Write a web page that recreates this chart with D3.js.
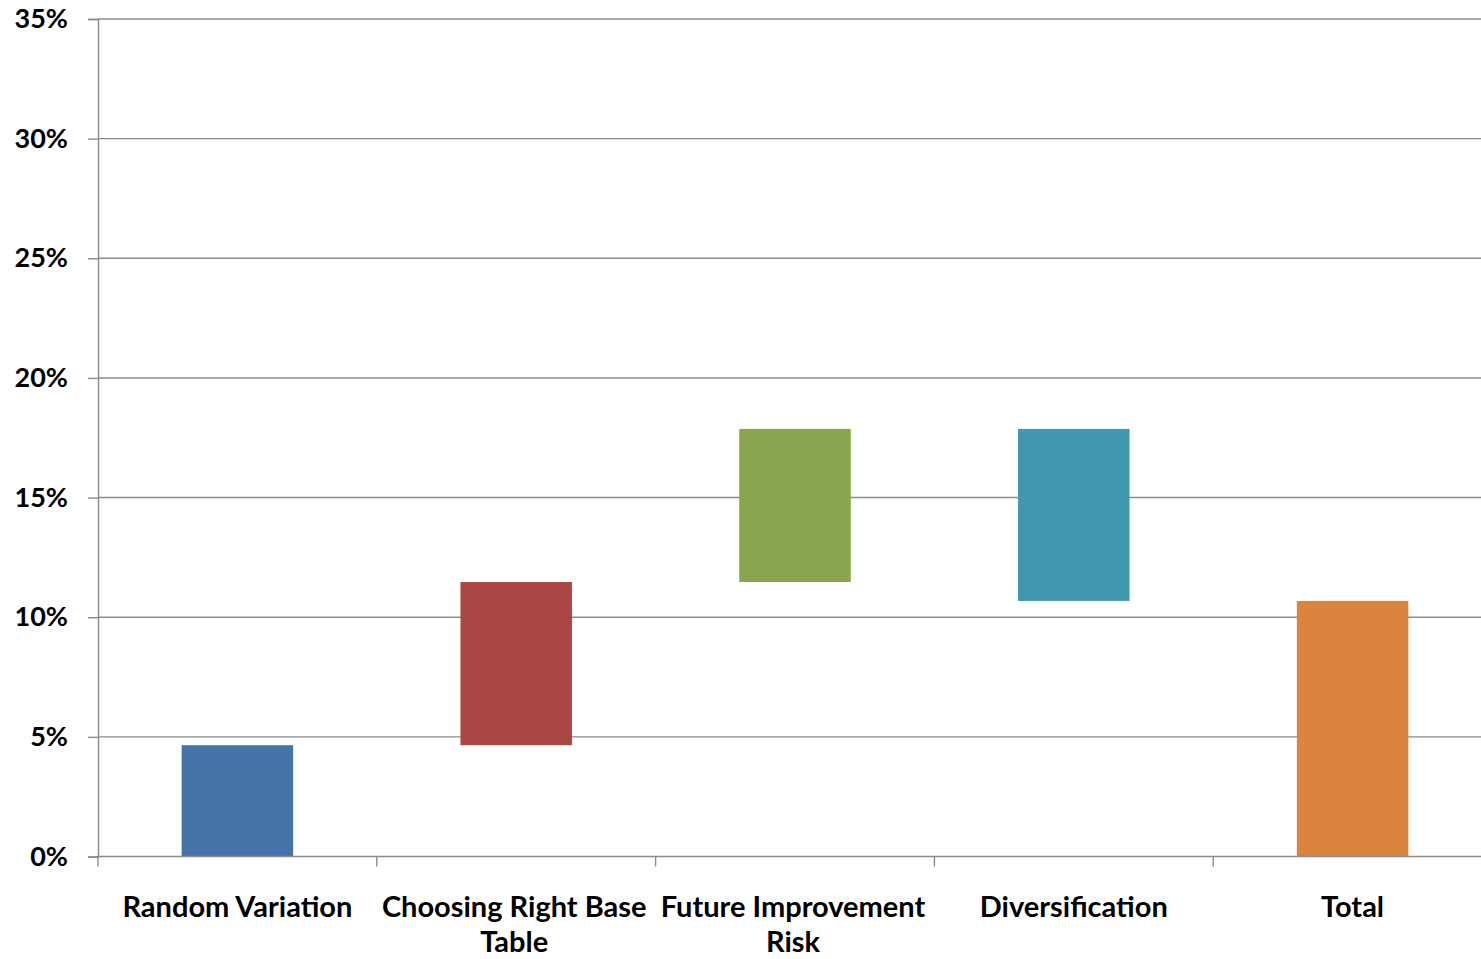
<!DOCTYPE html>
<html>
<head>
<meta charset="utf-8">
<script src="https://cdn.jsdelivr.net/npm/d3@7"></script>
<style>
  html, body { margin: 0; padding: 0; background: #fff; }
  svg { display: block; }
  text { font-family: Lato, "Open Sans", sans-serif; font-weight: 700; fill: #000; }
</style>
</head>
<body>
<svg id="chart" width="1481" height="959"></svg>
<script>
// ---- data ----
const categories = ["Random Variation", "Choosing Right Base Table", "Future Improvement Risk", "Diversification", "Total"];
const labelLines = [["Random Variation"], ["Choosing Right Base", "Table"], ["Future Improvement", "Risk"], ["Diversification"], ["Total"]];
const barStart = [0, 0.0465, 0.1147, 0.1787, 0];
const barEnd   = [0.0465, 0.1147, 0.1787, 0.1068, 0.1068];
const barColors = ["#4572A7", "#AA4643", "#89A54E", "#4198AF", "#DB843D"];
const yTicks = [0, 0.05, 0.10, 0.15, 0.20, 0.25, 0.30, 0.35];

const svg = d3.select("#chart");
const x = d3.scaleBand().domain(categories).range([98, 1492]).paddingInner(0.6).paddingOuter(0.3);
const y = d3.scaleLinear().domain([0, 0.35]).range([856.5, 19]);
const gridColor = "#8c8c8c";

// gridlines
svg.append("g").selectAll("line").data(yTicks.slice(1)).join("line")
  .attr("x1", 98).attr("x2", 1481)
  .attr("y1", d => y(d)).attr("y2", d => y(d))
  .attr("stroke", gridColor).attr("stroke-width", 1.4);

// y axis
const yAxis = d3.axisLeft(y).tickValues(yTicks).tickFormat(d3.format(".0%")).tickSize(10).tickPadding(20);
const gy = svg.append("g").attr("transform", "translate(98,0)").call(yAxis);
gy.select(".domain").attr("stroke", gridColor).attr("stroke-width", 1.4);
gy.selectAll(".tick line").attr("stroke", gridColor).attr("stroke-width", 1.4);
gy.selectAll(".tick text").attr("font-size", 27).attr("font-family", "Lato, sans-serif").attr("font-weight", 700).attr("fill", "#000");

// bars
const data = categories.map((c, i) => ({ c, s: barStart[i], e: barEnd[i], col: barColors[i] }));
svg.append("g").selectAll("rect").data(data).join("rect")
  .attr("x", d => x(d.c))
  .attr("width", x.bandwidth())
  .attr("y", d => y(Math.max(d.s, d.e)))
  .attr("height", d => Math.abs(y(d.s) - y(d.e)))
  .attr("fill", d => d.col);

// x axis line
svg.append("line").attr("x1", 98).attr("x2", 1481).attr("y1", y(0)).attr("y2", y(0))
  .attr("stroke", gridColor).attr("stroke-width", 1.4);
// category boundary ticks
const step = x.step();
const bounds = d3.range(categories.length + 1).map(i => x(categories[0]) - step * x.paddingOuter() + i * step);
svg.append("g").selectAll("line").data(bounds.filter(b => b <= 1481)).join("line")
  .attr("x1", d => d).attr("x2", d => d)
  .attr("y1", y(0)).attr("y2", y(0) + 10)
  .attr("stroke", gridColor).attr("stroke-width", 1.4);

// category labels
const lg = svg.append("g");
labelLines.forEach((lines, i) => {
  const cx = x(categories[i]) + x.bandwidth() / 2 - (lines.length > 1 ? 2 : 0);
  lines.forEach((t, j) => {
    lg.append("text").attr("x", cx).attr("y", 917 + j * 35)
      .attr("text-anchor", "middle").attr("font-size", 29).text(t);
  });
});
</script>
</body>
</html>
